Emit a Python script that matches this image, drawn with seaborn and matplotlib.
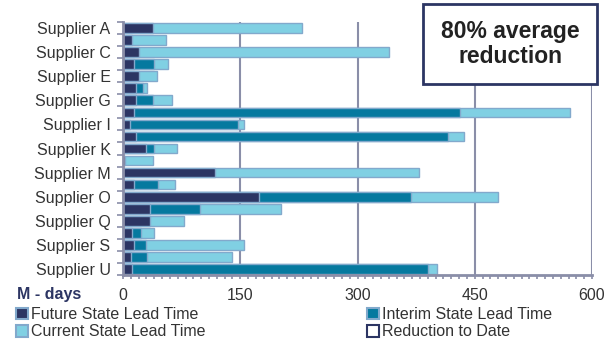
import matplotlib
matplotlib.use("Agg")
import matplotlib.pyplot as plt
from matplotlib.patches import Rectangle
from matplotlib.ticker import MultipleLocator, FixedLocator
import seaborn as sns
import pandas as pd
import numpy as np

suppliers = [f"Supplier {c}" for c in "ABCDEFGHIJKLMNOPQRSTU"]
future = [38, 12, 21, 14, 20, 16, 16, 14, 9, 16, 30, 3, 118, 14, 174, 34, 35, 11, 14, 10, 12]
interim = [0, 0, 0, 40, 0, 26, 38, 431, 147, 416, 40, 0, 0, 45, 368, 98, 0, 23, 29, 31, 390]
current = [229, 55, 340, 57, 44, 31, 63, 572, 155, 436, 69, 38, 379, 67, 480, 202, 78, 40, 155, 139, 402]
x_ticks = [0, 150, 300, 450, 600]

C_FUTURE = "#2c3563"
C_INTERIM = "#05799f"
C_CURRENT = "#80d0e3"
C_EDGE = "#82a9cc"
C_AXIS = "#8a8ea8"
C_TEXT = "#333333"

sns.set_theme(style="white")
plt.rcParams["font.family"] = ["Liberation Sans", "DejaVu Sans"]

df = pd.DataFrame({"supplier": suppliers, "future": future,
                   "interim": interim, "current": current})

fig = plt.figure(figsize=(6.04, 3.40), dpi=100)
ax = fig.add_axes([123 / 604, 1 - 275 / 340, 469 / 604, 253 / 340])

# Overlaid bars: current (longest) first, then interim, then future on top
for col, colr in [("current", C_CURRENT), ("interim", C_INTERIM), ("future", C_FUTURE)]:
    sub = df[df[col] > 0]
    sns.barplot(data=sub, x=col, y="supplier", order=suppliers, orient="h",
                color=colr, edgecolor=C_EDGE, linewidth=1.0, width=0.8,
                saturation=1, ax=ax)

ax.set_xlim(0, 600)
ax.set_ylim(len(suppliers) - 0.5, -0.5)
ax.set_xlabel("")
ax.set_ylabel("")

# Vertical gridlines
for v in x_ticks[1:]:
    ax.axvline(v, color=C_AXIS, lw=1.5, zorder=0.5)

# Y labels on every other supplier, tick marks on row boundaries
ax.set_yticks(range(0, len(suppliers), 2))
ax.set_yticklabels(suppliers[::2], fontsize=11.5, color=C_TEXT)
ax.yaxis.set_minor_locator(FixedLocator(np.arange(-0.5, len(suppliers), 1.0)))
ax.tick_params(axis="y", which="major", length=0, pad=9)
ax.tick_params(axis="y", which="minor", length=4, width=1.2, color=C_AXIS, left=True)

ax.set_xticks(x_ticks)
ax.set_xticklabels([str(v) for v in x_ticks], fontsize=11.5, color=C_TEXT)
ax.xaxis.set_minor_locator(MultipleLocator(10))
ax.tick_params(axis="x", which="both", length=3, width=1.2, color=C_AXIS,
               bottom=True, pad=6)

for s in ["top", "right"]:
    ax.spines[s].set_visible(False)
for s in ["left", "bottom"]:
    ax.spines[s].set_color(C_AXIS)
    ax.spines[s].set_linewidth(2)

fig.text(17 / 604, 1 - 295 / 340, "M - days", fontsize=11.5, fontweight="bold",
         color=C_FUTURE, va="center", ha="left")

# Legend
def sq(fc, ec):
    return Rectangle((0, 0), 1, 1, facecolor=fc, edgecolor=ec, linewidth=1.5)

leg_kw = dict(frameon=False, fontsize=11.5, handlelength=0.75, handleheight=0.75,
              handletextpad=0.2, labelspacing=0.15, borderpad=0, borderaxespad=0,
              loc="upper left")
leg1 = fig.legend([sq(C_FUTURE, C_EDGE), sq(C_CURRENT, C_EDGE)],
                  ["Future State Lead Time", "Current State Lead Time"],
                  bbox_to_anchor=(16 / 604, 1 - 307 / 340), **leg_kw)
leg2 = fig.legend([sq(C_INTERIM, C_EDGE), sq("white", C_FUTURE)],
                  ["Interim State Lead Time", "Reduction to Date"],
                  bbox_to_anchor=(367 / 604, 1 - 307 / 340), **leg_kw)
for leg in (leg1, leg2):
    for t in leg.get_texts():
        t.set_color(C_TEXT)

# Callout box
fig.patches.append(Rectangle((423 / 604, 1 - 84 / 340), 174 / 604, 80 / 340,
                             transform=fig.transFigure, facecolor="white",
                             edgecolor=C_FUTURE, linewidth=2, zorder=5))
fig.text(510 / 604, 1 - 44 / 340, "80% average\nreduction", fontsize=16.5,
         fontweight="bold", color="#222222", ha="center", va="center",
         linespacing=1.15, zorder=6)

fig.savefig("out.png", dpi=100)
